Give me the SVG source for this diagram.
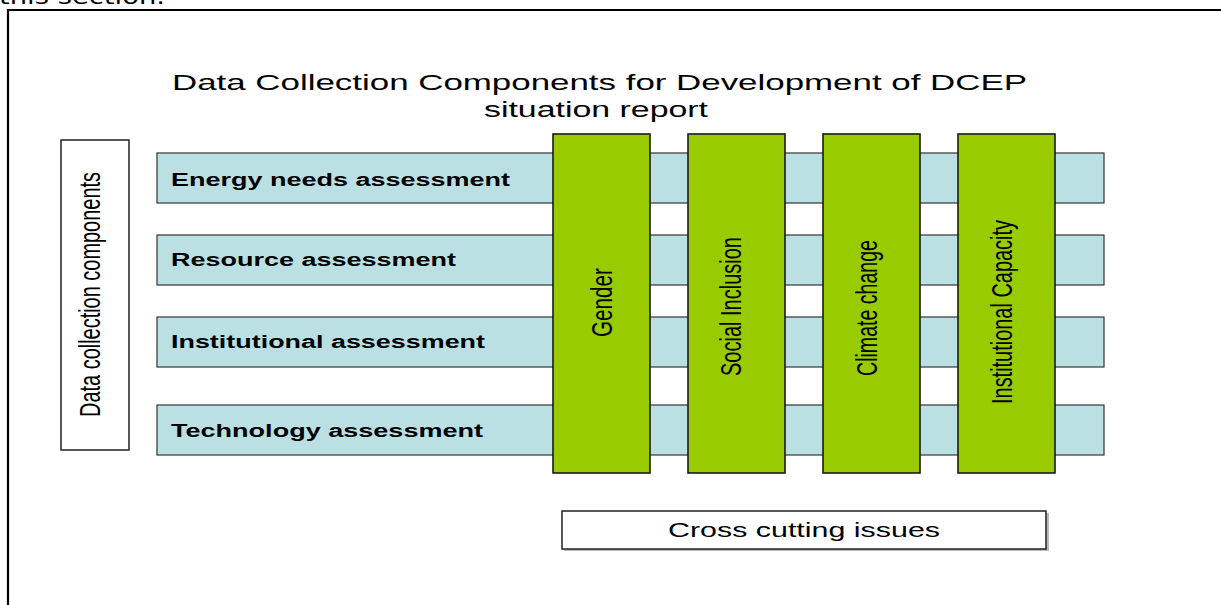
<svg xmlns="http://www.w3.org/2000/svg" width="1221" height="605" viewBox="0 0 1221 605">
<style>
.bar{fill:#BBE0E3;stroke:#333;stroke-width:1.2}
.col{fill:#99CC00;stroke:#1a1a1a;stroke-width:1.6}
.box{fill:#fff;stroke:#222;stroke-width:1.5}
.shadow{fill:#bbb}
.t{font-family:"Liberation Sans",Arial,sans-serif;fill:#000}
.b{font-family:"Liberation Sans",Arial,sans-serif;font-weight:bold;fill:#000;font-size:17.5px}
.v{font-family:"Liberation Sans",Arial,sans-serif;fill:#000;font-size:29px;text-anchor:middle}
</style>
<rect width="1221" height="605" fill="#fff"/>
<text x="-1" y="4" font-family="'DejaVu Sans',Verdana,sans-serif" font-size="21" textLength="166" lengthAdjust="spacingAndGlyphs">this section.</text>
<path d="M8,605 V10 H1221" fill="none" stroke="#000" stroke-width="2.2"/>
<g id="title">
<text class="t" x="172" y="90" font-size="22" textLength="855" lengthAdjust="spacingAndGlyphs">Data Collection Components for Development of DCEP</text>
<text class="t" x="484" y="117" font-size="22" textLength="224" lengthAdjust="spacingAndGlyphs">situation report</text>
</g>
<g id="data-collection-components">
<rect class="box" x="61" y="140" width="68" height="310"/>
<text class="v" font-size="24" transform="translate(100,294.5) rotate(-90)" textLength="245" lengthAdjust="spacingAndGlyphs">Data collection components</text>
</g>
<g id="energy-needs-assessment">
<rect class="bar" x="157" y="153" width="947" height="50"/>
<text class="b" x="171" y="185.5" textLength="339" lengthAdjust="spacingAndGlyphs">Energy needs assessment</text>
</g>
<g id="resource-assessment">
<rect class="bar" x="157" y="235" width="947" height="50"/>
<text class="b" x="171" y="266" textLength="285" lengthAdjust="spacingAndGlyphs">Resource assessment</text>
</g>
<g id="institutional-assessment">
<rect class="bar" x="157" y="317" width="947" height="50"/>
<text class="b" x="171" y="348" textLength="314" lengthAdjust="spacingAndGlyphs">Institutional assessment</text>
</g>
<g id="technology-assessment">
<rect class="bar" x="157" y="405" width="947" height="50"/>
<text class="b" x="171" y="437" textLength="312" lengthAdjust="spacingAndGlyphs">Technology assessment</text>
</g>
<g id="gender">
<rect class="col" x="553" y="134" width="97" height="339"/>
<text class="v" transform="translate(612,302.5) rotate(-90)" textLength="69" lengthAdjust="spacingAndGlyphs">Gender</text>
</g>
<g id="social-inclusion">
<rect class="col" x="688" y="134" width="97" height="339"/>
<text class="v" transform="translate(741,306.5) rotate(-90)" textLength="139" lengthAdjust="spacingAndGlyphs">Social Inclusion</text>
</g>
<g id="climate-change">
<rect class="col" x="823" y="134" width="97" height="339"/>
<text class="v" transform="translate(877,308) rotate(-90)" textLength="136" lengthAdjust="spacingAndGlyphs">Climate change</text>
</g>
<g id="institutional-capacity">
<rect class="col" x="958" y="134" width="97" height="339"/>
<text class="v" transform="translate(1012,312) rotate(-90)" textLength="184" lengthAdjust="spacingAndGlyphs">Institutional Capacity</text>
</g>
<g id="cross-cutting-issues">
<rect class="shadow" x="564" y="513" width="485" height="38"/>
<rect class="box" x="562" y="511" width="484" height="38"/>
<text class="t" x="668" y="537" font-size="20" textLength="272" lengthAdjust="spacingAndGlyphs">Cross cutting issues</text>
</g>
<g id="connectors"/>
</svg>
